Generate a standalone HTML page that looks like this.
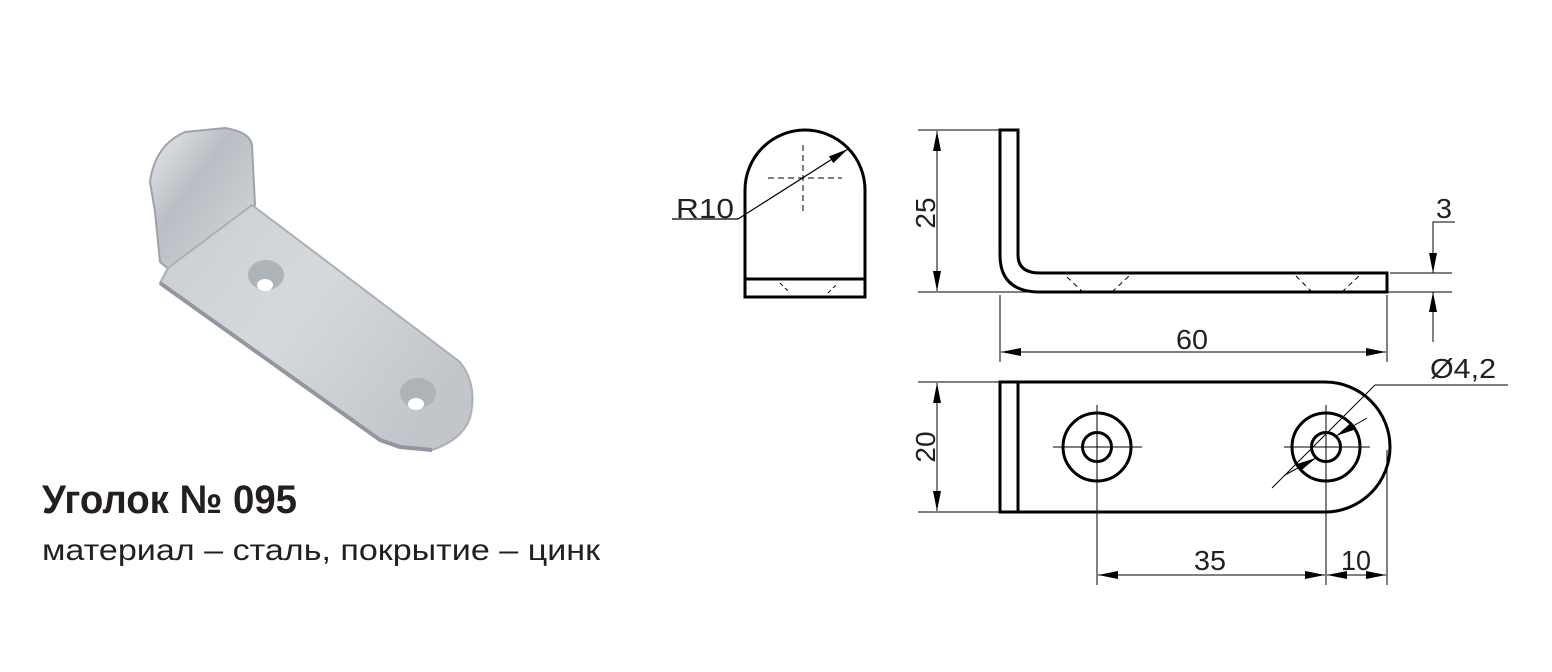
<!DOCTYPE html>
<html><head><meta charset="utf-8"><style>
html,body{margin:0;padding:0;background:#fff;}
svg{display:block;}
text{font-family:"Liberation Sans Narrow","Liberation Sans",sans-serif;fill:#231f20;}
</style></head><body>
<svg width="1552" height="672" viewBox="0 0 1552 672" xmlns="http://www.w3.org/2000/svg">
<defs>
<linearGradient id="g1" x1="0" y1="0" x2="1" y2="1">
<stop offset="0" stop-color="#e8eaec"/><stop offset="0.4" stop-color="#b9bec4"/><stop offset="1" stop-color="#d7dadd"/>
</linearGradient>
<linearGradient id="g2" x1="0" y1="0" x2="1" y2="0.6">
<stop offset="0" stop-color="#c9cdd1"/><stop offset="0.5" stop-color="#d6d9dc"/><stop offset="1" stop-color="#c2c6ca"/>
</linearGradient>
<marker id="a" viewBox="0 0 20 8" refX="20" refY="4" markerWidth="20" markerHeight="8" markerUnits="userSpaceOnUse" orient="auto-start-reverse"><path d="M0,0 L20,4 L0,8 Z" fill="#000"/></marker>
</defs>

<!-- photo -->
<path d="M155,212 L150,182 Q155,145 185,132 L225,128 Q250,132 252,145 L255,205 L172,272 L160,262 Z" fill="url(#g1)" stroke="#9ea3a8" stroke-width="2"/>
<path d="M168,268 L252,205 L460,362 Q478,385 470,418 Q462,440 432,450 L400,447 L380,440 L160,283 Z" fill="url(#g2)" stroke="#aab0b5" stroke-width="2"/>
<path d="M160,283 L380,440 L400,447 L432,450" fill="none" stroke="#9197a0" stroke-width="4"/>
<ellipse cx="266" cy="275" rx="18" ry="15" fill="#aeb3b8"/><ellipse cx="265" cy="285" rx="8" ry="6" fill="#fff"/>
<ellipse cx="418" cy="393" rx="18" ry="15" fill="#aeb3b8"/><ellipse cx="416" cy="404" rx="8" ry="6" fill="#fff"/>

<text x="42" y="513" font-size="40" font-weight="bold" textLength="255" lengthAdjust="spacingAndGlyphs">Уголок № 095</text>
<text x="42" y="560" font-size="30" textLength="558" lengthAdjust="spacingAndGlyphs">материал – сталь, покрытие – цинк</text>

<g stroke="#000" fill="none">
<!-- front view -->
<path d="M745,297 L745,190 A60,60 0 0 1 865,190 L865,297 Z" stroke-width="3"/>
<line x1="745" y1="279" x2="865" y2="279" stroke-width="3"/>
<line x1="780" y1="283" x2="790" y2="293" stroke-width="1" stroke-dasharray="4,3"/>
<line x1="828" y1="293" x2="838" y2="283" stroke-width="1" stroke-dasharray="4,3"/>
<line x1="768" y1="178" x2="842" y2="178" stroke-width="1" stroke-dasharray="6,4"/>
<line x1="803" y1="145" x2="803" y2="215" stroke-width="1" stroke-dasharray="6,4"/>
<polyline points="672,219 738,219 848,149" stroke-width="1.2" marker-end="url(#a)"/>

<!-- side view -->
<path d="M1000,130 L1018,130 L1018,255 Q1018,273 1040,273 L1387,273 L1387,292 L1040,292 Q1000,292 1000,255 Z" stroke-width="3"/>
<g stroke-width="1" stroke-dasharray="5,4">
<line x1="1067" y1="277" x2="1083" y2="292"/><line x1="1112" y1="292" x2="1130" y2="275"/>
<line x1="1296" y1="276" x2="1312" y2="292"/><line x1="1342" y1="292" x2="1360" y2="275"/>
</g>
<g stroke-width="1">
<line x1="918" y1="130" x2="1000" y2="130"/>
<line x1="918" y1="292" x2="1452" y2="292"/>
<line x1="1390" y1="273" x2="1452" y2="273"/>
<line x1="937" y1="131" x2="937" y2="291" marker-start="url(#a)" marker-end="url(#a)"/>
<line x1="1000" y1="295" x2="1000" y2="362"/>
<line x1="1387" y1="295" x2="1387" y2="362"/>
<line x1="1001" y1="352" x2="1386" y2="352" marker-start="url(#a)" marker-end="url(#a)"/>
<polyline points="1455,222 1433,222 1433,273" marker-end="url(#a)"/>
<line x1="1433" y1="342" x2="1433" y2="292" marker-end="url(#a)"/>
</g>

<!-- top view -->
<path d="M1000,382 L1325,382 A65,65 0 0 1 1325,512 L1000,512 Z" stroke-width="3"/>
<line x1="1018" y1="382" x2="1018" y2="512" stroke-width="3"/>
<circle cx="1097" cy="447" r="34" stroke-width="3"/><circle cx="1097" cy="447" r="14.5" stroke-width="3"/>
<circle cx="1326" cy="447" r="34" stroke-width="3"/><circle cx="1326" cy="447" r="14.5" stroke-width="3"/>
<g stroke-width="1">
<line x1="1053" y1="447" x2="1142" y2="447"/><line x1="1097" y1="405" x2="1097" y2="585"/>
<line x1="1284" y1="447" x2="1370" y2="447"/><line x1="1326" y1="405" x2="1326" y2="585"/>
<line x1="1387" y1="450" x2="1387" y2="585"/>
<line x1="918" y1="382" x2="1000" y2="382"/><line x1="918" y1="512" x2="1000" y2="512"/>
<line x1="937" y1="383" x2="937" y2="511" marker-start="url(#a)" marker-end="url(#a)"/>
<line x1="1098" y1="575" x2="1325" y2="575" marker-start="url(#a)" marker-end="url(#a)"/>
<line x1="1327" y1="575" x2="1386" y2="575" marker-start="url(#a)" marker-end="url(#a)"/>
<polyline points="1272,488 1375,385 1508,385"/>
<line x1="1285" y1="475" x2="1316" y2="458" stroke-width="1" marker-end="url(#a)"/>
<line x1="1367" y1="418" x2="1336" y2="436" stroke-width="1" marker-end="url(#a)"/>
</g>
</g>

<g font-family="Liberation Sans,sans-serif" font-size="28">
<text x="676" y="218" textLength="58" lengthAdjust="spacingAndGlyphs" font-family="Liberation Sans,sans-serif">R10</text>
<text x="1176" y="349" textLength="32" lengthAdjust="spacingAndGlyphs" font-family="Liberation Sans,sans-serif">60</text>
<text x="1436" y="218" textLength="16" lengthAdjust="spacingAndGlyphs" font-family="Liberation Sans,sans-serif">3</text>
<text x="1430" y="378" textLength="66" lengthAdjust="spacingAndGlyphs" font-family="Liberation Sans,sans-serif">Ø4,2</text>
<text x="1194" y="570" textLength="32" lengthAdjust="spacingAndGlyphs" font-family="Liberation Sans,sans-serif">35</text>
<text x="1341" y="570" textLength="30" lengthAdjust="spacingAndGlyphs" font-family="Liberation Sans,sans-serif">10</text>
<text transform="translate(935,213) rotate(-90)" text-anchor="middle" font-family="Liberation Sans,sans-serif">25</text>
<text transform="translate(935,447) rotate(-90)" text-anchor="middle" font-family="Liberation Sans,sans-serif">20</text>
</g>
</svg>
</body></html>
